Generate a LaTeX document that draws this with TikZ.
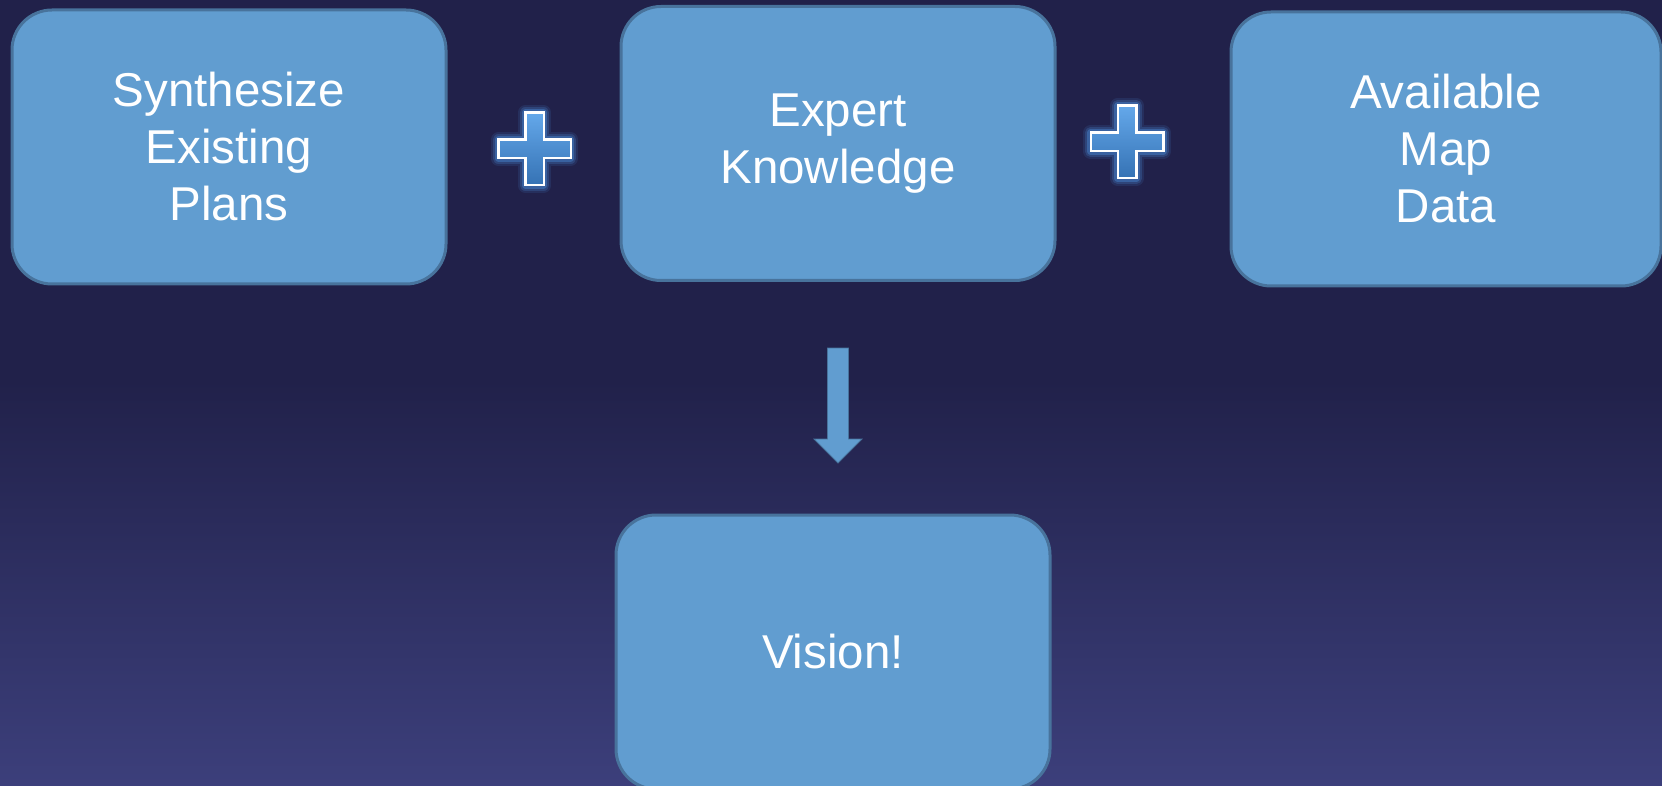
\documentclass[tikz,border=0pt]{standalone}
\usepackage{fontspec}
\setmainfont{Liberation Sans}
\definecolor{bgtop}{HTML}{21214A}
\definecolor{bgbot}{HTML}{3C3F7B}
\definecolor{boxfill}{HTML}{619DD0}
\definecolor{boxline}{HTML}{48739C}
\definecolor{glowc}{HTML}{4F98EA}
\definecolor{plustop}{HTML}{64A8EA}
\definecolor{plusbot}{HTML}{3572B4}
\begin{document}
\begin{tikzpicture}[x=1pt,y=-1pt,
  box/.style={draw=boxline, line width=3pt, fill=boxfill, rounded corners=40pt,
    minimum width=434pt, minimum height=274pt, text=white,
    font=\fontsize{47.5}{57}\selectfont, align=center, inner sep=0pt},
  plusglow/.style={draw=glowc, line join=round},
  pics/plussign/.style={code={
    \path[plusglow, line width=15pt, opacity=0.12] (-9.25,-36.25) -- (9.25,-36.25) -- (9.25,-9.25) -- (36.25,-9.25) -- (36.25,9.25) -- (9.25,9.25) -- (9.25,36.25) -- (-9.25,36.25) -- (-9.25,9.25) -- (-36.25,9.25) -- (-36.25,-9.25) -- (-9.25,-9.25) -- cycle;
    \path[plusglow, line width=11pt, opacity=0.2] (-9.25,-36.25) -- (9.25,-36.25) -- (9.25,-9.25) -- (36.25,-9.25) -- (36.25,9.25) -- (9.25,9.25) -- (9.25,36.25) -- (-9.25,36.25) -- (-9.25,9.25) -- (-36.25,9.25) -- (-36.25,-9.25) -- (-9.25,-9.25) -- cycle;
    \path[plusglow, line width=7pt, opacity=0.35] (-9.25,-36.25) -- (9.25,-36.25) -- (9.25,-9.25) -- (36.25,-9.25) -- (36.25,9.25) -- (9.25,9.25) -- (9.25,36.25) -- (-9.25,36.25) -- (-9.25,9.25) -- (-36.25,9.25) -- (-36.25,-9.25) -- (-9.25,-9.25) -- cycle;
    \shade[top color=plustop, bottom color=plusbot] (-9.25,-36.25) -- (9.25,-36.25) -- (9.25,-9.25) -- (36.25,-9.25) -- (36.25,9.25) -- (9.25,9.25) -- (9.25,36.25) -- (-9.25,36.25) -- (-9.25,9.25) -- (-36.25,9.25) -- (-36.25,-9.25) -- (-9.25,-9.25) -- cycle;
    \draw[white, line width=2.5pt] (-9.25,-36.25) -- (9.25,-36.25) -- (9.25,-9.25) -- (36.25,-9.25) -- (36.25,9.25) -- (9.25,9.25) -- (9.25,36.25) -- (-9.25,36.25) -- (-9.25,9.25) -- (-36.25,9.25) -- (-36.25,-9.25) -- (-9.25,-9.25) -- cycle;
  }}]
\useasboundingbox (0,0) rectangle (1662,786);
\fill[bgtop] (0,0) rectangle (1662,786);
\shade[top color=bgtop, bottom color=bgbot] (0,380) rectangle (1662,786);

\node[box] (s1) at (229,147) {Synthesize\\Existing\\Plans};
\node[box] (s2) at (838,143.5) {Expert\\Knowledge};
\node[box, minimum width=430pt] (s3) at (1446,149) {Available\\Map\\Data};
\node[box] (v) at (833,652) {Vision!};

\pic at (534.5,149) {plussign};
\pic at (1127,142) {plussign};

\draw[fill=boxfill, draw=boxline, line width=0.8pt]
  (827.5,348) -- (848.5,348) -- (848.5,439) -- (862,439) -- (838,463)
  -- (814,439) -- (827.5,439) -- cycle;
\end{tikzpicture}
\end{document}
